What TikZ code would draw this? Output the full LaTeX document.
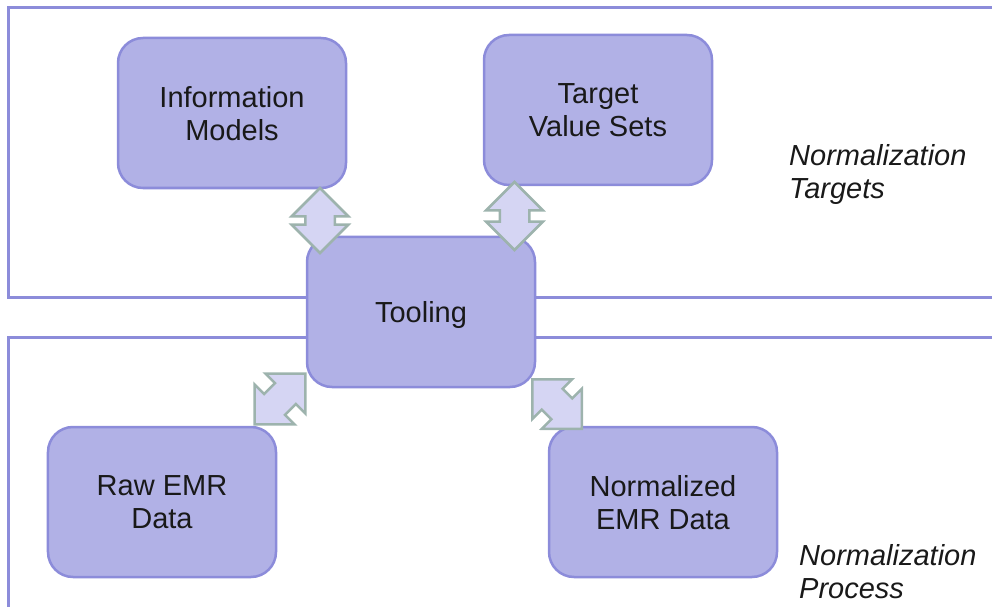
\documentclass[tikz,border=0pt]{standalone}
\usepackage{fontspec}
\setmainfont{Liberation Sans}
\usetikzlibrary{shapes.arrows}

\definecolor{boxfill}{HTML}{B1B1E6}
\definecolor{boxedge}{HTML}{8C8CDA}
\definecolor{arrfill}{HTML}{D5D5F3}
\definecolor{arredge}{HTML}{9DB3AD}

\tikzset{
  block/.style={draw=boxedge,fill=boxfill,line width=2.5bp,rounded corners=25bp,
    minimum width=228bp,minimum height=150bp,align=center,inner sep=0pt,
    text depth=0pt,font=\fontsize{29bp}{33bp}\selectfont,text=black!90},
  link/.style={double arrow,draw=arredge,fill=arrfill,line width=2.5bp,
    inner xsep=0pt,inner ysep=13.5bp,double arrow head extend=13.5bp},
  region/.style={draw=boxedge,line width=3bp},
  caption/.style={align=left,anchor=west,inner sep=0pt,
    font=\fontsize{29bp}{33bp}\selectfont\itshape,text=black!90}
}

\begin{document}
\begin{tikzpicture}[x=1bp,y=-1bp]
\useasboundingbox (0,0) rectangle (992,607);

% the two regions
\draw[region] (992,8) -- (8,8) -- (8,297) -- (992,297);
\draw[region] (992,337) -- (8,337) -- (8,607);

\draw (232,113) node(INFO)[block]{Information\\Models};
\draw (598,110) node(VSET)[block]{Target\\Value Sets};
\draw (421,312) node(TOOL)[block]{Tooling};
\draw (162,502) node(RAW)[block]{Raw EMR\\Data};
\draw (663,502) node(NORM)[block]{Normalized\\EMR Data};

\draw (789,175) node(TGT)[caption]{Normalization\\Targets};
\draw (799,572) node(PROC)[caption]{Normalization\\Process};

% exchange arrows between tooling and the other blocks
\draw (320,220.5) node(L1)[link,rotate=90,minimum height=65bp]{};
\draw (514.5,216) node(L2)[link,rotate=90,minimum height=68bp]{};
\draw (280,399) node(L3)[link,rotate=45,minimum height=72bp]{};
\draw (557,404) node(L4)[link,rotate=-45,minimum height=70bp]{};

\end{tikzpicture}
\end{document}
